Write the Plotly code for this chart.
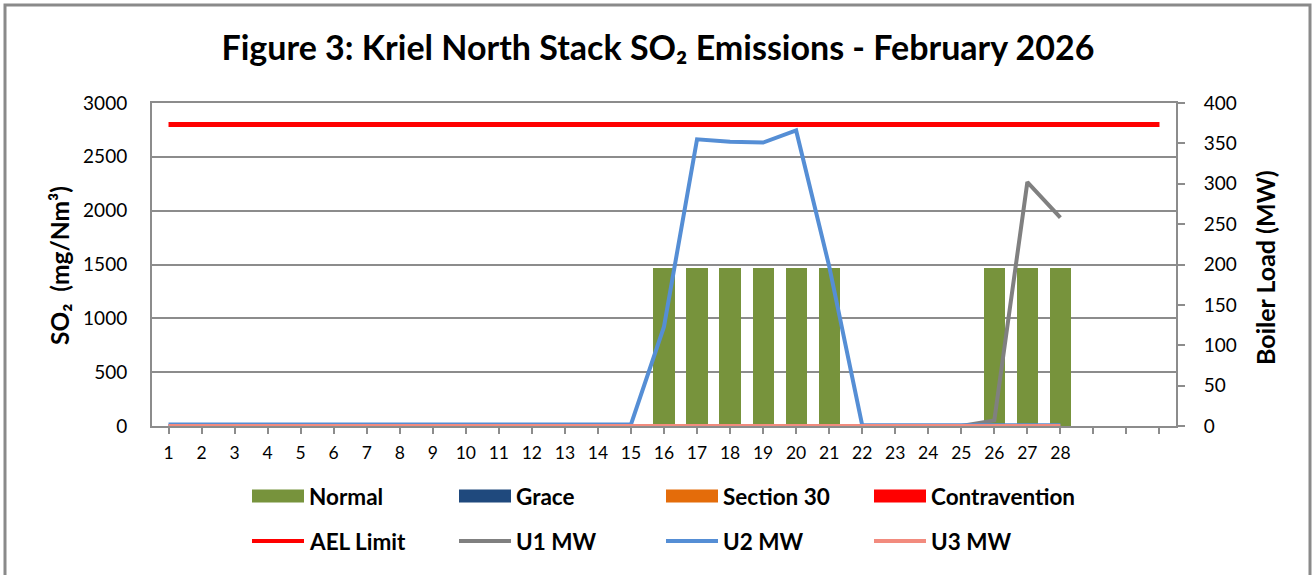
import plotly.graph_objects as go

# ---------------- data ----------------
days = list(range(1, 32))
day_labels = [str(d) for d in range(1, 29)] + ["", "", ""]

normal = [0, 0, 0, 0, 0, 0, 0, 0, 0, 0, 0, 0, 0, 0, 0,
          1470, 1470, 1470, 1470, 1470, 1470,
          0, 0, 0, 0,
          1470, 1470, 1470,
          None, None, None]
grace = [0, 0, 0, 0, 0, 0, 0, 0, 0, 0, 0, 0, 0, 0, 0, 0, 0, 0, 0, 0,
         0, 0, 0, 0, 0, 0, 0, 0, None, None, None]
section30 = [0, 0, 0, 0, 0, 0, 0, 0, 0, 0, 0, 0, 0, 0, 0, 0, 0, 0, 0, 0,
             0, 0, 0, 0, 0, 0, 0, 0, None, None, None]
contravention = [0, 0, 0, 0, 0, 0, 0, 0, 0, 0, 0, 0, 0, 0, 0, 0, 0, 0, 0, 0,
                 0, 0, 0, 0, 0, 0, 0, 0, None, None, None]
ael_limit = [2800, 2800, 2800, 2800, 2800, 2800, 2800, 2800, 2800, 2800,
             2800, 2800, 2800, 2800, 2800, 2800, 2800, 2800, 2800, 2800,
             2800, 2800, 2800, 2800, 2800, 2800, 2800, 2800, 2800, 2800, 2800]
u1_mw = [0, 0, 0, 0, 0, 0, 0, 0, 0, 0, 0, 0, 0, 0, 0, 0, 0, 0, 0, 0,
         0, 0, 0, 0, 0, 7, 302, 258, None, None, None]
u2_mw = [2, 2, 2, 2, 2, 2, 2, 2, 2, 2, 2, 2, 2, 2, 2,
         123, 355, 352, 351, 366, 198,
         1, 1, 1, 1, 1, 1, 1, None, None, None]
u3_mw = [0, 0, 0, 0, 0, 0, 0, 0, 0, 0, 0, 0, 0, 0, 0, 0, 0, 0, 0, 0,
         0, 0, 0, 0, 0, 0, 0, 0, None, None, None]

bar_names = ["Normal", "Grace", "Section 30", "Contravention"]
bar_colors = ["#77933C", "#1F497D", "#E46C0A", "#FF0000"]
line_names = ["AEL Limit", "U1 MW", "U2 MW", "U3 MW"]
line_colors = ["#FF0000", "#808080", "#558ED5", "#F28B7E"]

title_text = "Figure 3: Kriel North Stack SO\u2082 Emissions - February 2026"
y_title = "SO\u2082  (mg/Nm\u00b3)"
y2_title = "Boiler Load (MW)"

FONT = "Lato"
GRID = "#8C8C8C"

# ---------------- layout geometry (pixels) ----------------
W, H = 1316, 575
L, R, T, B = 152, 1176, 103, 426
PW, PH = R - L, B - T


def px(x):
    return (x - L) / PW


def py(y):
    return (B - y) / PH


fig = go.Figure()

bar_series = [normal, grace, section30, contravention]
for name, col, vals in zip(bar_names, bar_colors, bar_series):
    fig.add_trace(go.Bar(x=days, y=vals, name=name, marker_color=col,
                         marker_line_width=0, width=0.64, showlegend=False))

fig.add_trace(go.Scatter(x=days, y=ael_limit, name=line_names[0], mode="lines",
                         line=dict(color=line_colors[0], width=5), showlegend=False))
for name, col, vals in zip(line_names[1:], line_colors[1:], [u1_mw, u2_mw, u3_mw]):
    fig.add_trace(go.Scatter(x=days, y=vals, name=name, mode="lines", yaxis="y2",
                             line=dict(color=col, width=4), showlegend=False))

shapes = []
annotations = []

# outer chart border
shapes.append(dict(type="rect", xref="paper", yref="paper",
                   x0=px(5), x1=px(1310), y0=py(5), y1=py(590),
                   line=dict(color="#8A8A8A", width=3), fillcolor="rgba(0,0,0,0)",
                   layer="above"))

# custom legend
col_x = [252, 459, 666, 874]
row_y = [496, 541]
LEG_SIZE = 22.5
for i, (name, col) in enumerate(zip(bar_names, bar_colors)):
    x0 = col_x[i]
    shapes.append(dict(type="rect", xref="paper", yref="paper",
                       x0=px(x0), x1=px(x0 + 52), y0=py(row_y[0] - 6.5), y1=py(row_y[0] + 6.5),
                       fillcolor=col, line=dict(width=0)))
    annotations.append(dict(xref="paper", yref="paper", x=px(x0 + 55), y=py(row_y[0]),
                            text="<b>%s</b>" % name, showarrow=False, xanchor="left",
                            yanchor="middle", font=dict(family=FONT, size=LEG_SIZE, color="black")))
for i, (name, col) in enumerate(zip(line_names, line_colors)):
    x0 = col_x[i]
    shapes.append(dict(type="line", xref="paper", yref="paper",
                       x0=px(x0), x1=px(x0 + 52), y0=py(row_y[1]), y1=py(row_y[1]),
                       line=dict(color=col, width=4)))
    annotations.append(dict(xref="paper", yref="paper", x=px(x0 + 55), y=py(row_y[1]),
                            text="<b>%s</b>" % name, showarrow=False, xanchor="left",
                            yanchor="middle", font=dict(family=FONT, size=LEG_SIZE, color="black")))

# axis titles
annotations.append(dict(xref="paper", yref="paper", x=px(59), y=py(266), text="<b>%s</b>" % y_title,
                        textangle=-90, showarrow=False, xanchor="center", yanchor="middle",
                        font=dict(family=FONT, size=24.5, color="black")))
annotations.append(dict(xref="paper", yref="paper", x=px(1265), y=py(268), text="<b>%s</b>" % y2_title,
                        textangle=-90, showarrow=False, xanchor="center", yanchor="middle",
                        font=dict(family=FONT, size=25, color="black")))

fig.update_layout(
    width=W, height=H,
    margin=dict(l=L, r=W - R, t=T, b=H - B, pad=0),
    paper_bgcolor="white", plot_bgcolor="white",
    barmode="stack", bargap=0,
    font=dict(family=FONT, color="black"),
    title=dict(text="<b>%s</b>" % title_text, x=0.5, xref="container", xanchor="center",
               y=1 - 48 / H, yref="container", yanchor="middle",
               font=dict(family=FONT, size=34, color="black")),
    xaxis=dict(range=[0.5, 31.5], tickmode="array", tickvals=days, ticktext=day_labels,
               showgrid=False, zeroline=False, showline=True, linecolor=GRID, linewidth=2,
               mirror=True, ticks="outside", ticklen=6, tickcolor=GRID, tickwidth=1.5,
               tickfont=dict(family=FONT, size=17.5, color="black"), ticklabelstandoff=4),
    yaxis=dict(range=[0, 3000], dtick=500, showgrid=True, gridcolor=GRID, gridwidth=2,
               zeroline=False, showline=True, linecolor=GRID, linewidth=2, ticks="",
               tickfont=dict(family=FONT, size=19, color="black"), ticklabelstandoff=19),
    yaxis2=dict(range=[0, 400], dtick=50, overlaying="y", side="right", showgrid=False,
                zeroline=False, showline=True, linecolor=GRID, linewidth=2,
                ticks="outside", ticklen=7, tickcolor=GRID, tickwidth=1.5,
                tickfont=dict(family=FONT, size=19, color="black"), ticklabelstandoff=15),
    shapes=shapes, annotations=annotations, showlegend=False,
)

fig.write_html("out.html", config={"displayModeBar": False},
               post_script="document.body.style.margin='0';document.body.style.overflow='hidden';")
